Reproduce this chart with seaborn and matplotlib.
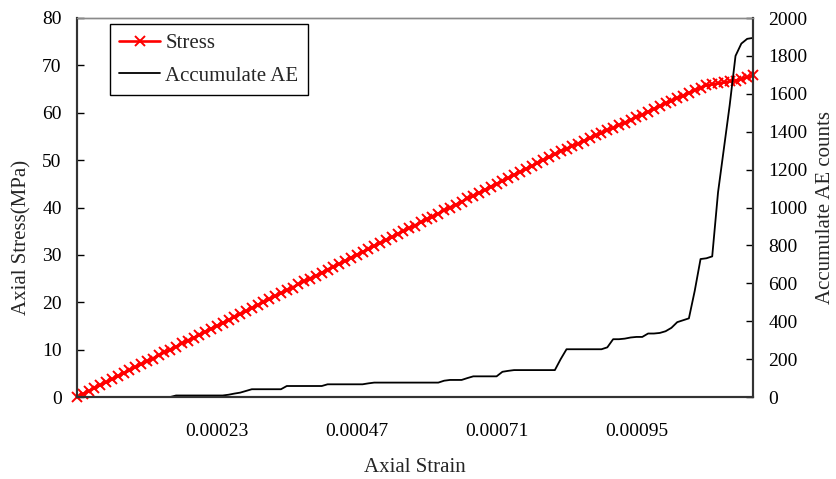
import numpy as np
import pandas as pd
import matplotlib
matplotlib.use("Agg")
import matplotlib.pyplot as plt
import seaborn as sns

# Axial stress (MPa) at each loading step
stress = [
    0.0, 0.6, 1.2, 1.9, 2.5, 3.1, 3.7, 4.4, 5.0, 5.6,
    6.3, 6.9, 7.5, 8.1, 8.8, 9.4, 10.0, 10.6, 11.3, 11.9,
    12.5, 13.1, 13.8, 14.4, 15.0, 15.6, 16.2, 16.9, 17.5, 18.1,
    18.8, 19.4, 20.0, 20.6, 21.3, 21.9, 22.5, 23.1, 23.8, 24.4,
    25.0, 25.6, 26.2, 26.9, 27.5, 28.1, 28.7, 29.4, 30.0, 30.6,
    31.2, 31.9, 32.5, 33.1, 33.7, 34.4, 35.0, 35.6, 36.2, 36.9,
    37.5, 38.1, 38.7, 39.4, 40.0, 40.6, 41.2, 41.9, 42.5, 43.1,
    43.7, 44.4, 45.0, 45.6, 46.2, 46.9, 47.5, 48.1, 48.7, 49.4,
    50.0, 50.6, 51.2, 51.9, 52.4, 53.0, 53.5, 54.1, 54.6, 55.2,
    55.7, 56.3, 56.8, 57.4, 57.9, 58.5, 59.1, 59.6, 60.2, 60.8,
    61.4, 62.0, 62.5, 63.1, 63.6, 64.2, 64.7, 65.3, 65.8, 66.0,
    66.2, 66.4, 66.6, 66.8, 67.1, 67.5, 67.9,
]

# Accumulated acoustic-emission counts at the same steps
ae_counts = [
    0, 0, 0, 0, 0, 0, 0, 0, 0, 0,
    0, 0, 0, 0, 0, 0, 0, 8, 8, 8,
    8, 8, 8, 8, 8, 8, 12, 18, 23, 32,
    41, 41, 41, 41, 41, 41, 58, 58, 58, 58,
    58, 58, 58, 67, 67, 67, 67, 67, 67, 67,
    72, 76, 76, 76, 76, 76, 76, 76, 76, 76,
    76, 76, 76, 86, 90, 90, 90, 100, 109, 109,
    109, 109, 109, 133, 138, 142, 142, 142, 142, 142,
    142, 142, 142, 200, 252, 252, 252, 252, 252, 252,
    252, 262, 305, 305, 308, 314, 317, 317, 335, 335,
    338, 347, 365, 395, 405, 415, 560, 728, 732, 742,
    1080, 1310, 1540, 1800, 1865, 1890, 1895,
]

# Strain labels shown along the category axis, one every 24 steps
strain_labels = ["0.00023", "0.00047", "0.00071", "0.00095"]
label_steps = [24, 48, 72, 96]

df = pd.DataFrame({
    "step": np.arange(len(stress)),
    "stress": stress,
    "ae": ae_counts,
})

sns.set_theme(style="white")
plt.rcParams["font.family"] = ["Liberation Serif", "DejaVu Serif"]

W, H = 837, 479
fig = plt.figure(figsize=(W / 100, H / 100), dpi=100)
left, right, top, bottom = 77, 753, 18, 397
ax = fig.add_axes([left / W, 1 - bottom / H, (right - left) / W, (bottom - top) / H])
ax2 = ax.twinx()

sns.lineplot(data=df, x="step", y="stress", ax=ax, color="red", linewidth=1.9,
             marker="x", markersize=7.5, markeredgewidth=1.4, markeredgecolor="red",
             label="Stress", legend=False, clip_on=False)
sns.lineplot(data=df, x="step", y="ae", ax=ax2, color="black", linewidth=1.3,
             label="Accumulate AE", legend=False)

ax.set_xlim(0, len(stress) - 1)
ax.set_ylim(0, 80)
ax2.set_ylim(0, 2000)
ax.set_yticks(range(0, 81, 10))
ax2.set_yticks(range(0, 2001, 200))
ax.set_xticks(label_steps, strain_labels)

ax.tick_params(axis="x", bottom=True, length=0, pad=19, labelsize=14, colors="black")
ax.tick_params(axis="y", left=True, direction="in", length=5, width=1,
               pad=11, labelsize=14, colors="black")
ax2.tick_params(axis="y", right=True, direction="in", length=5, width=1,
                pad=11, labelsize=14, colors="black")

ax.set_xlabel("Axial Strain", fontsize=15)
ax.set_ylabel("Axial Stress(MPa)", fontsize=15)
ax2.set_ylabel("Accumulate AE counts", fontsize=15)
ax.xaxis.set_label_coords(0.5, -0.16)
ax.yaxis.set_label_coords(-0.067, 0.42)
ax2.yaxis.set_label_coords(1.093, 0.5)

for a in (ax, ax2):
    for name, sp in a.spines.items():
        sp.set_visible(True)
        if name == "top":
            sp.set_color("#8a8a8a")
            sp.set_linewidth(1.0)
        else:
            sp.set_color("#333333")
            sp.set_linewidth(1.5)

h1, l1 = ax.get_legend_handles_labels()
h2, l2 = ax2.get_legend_handles_labels()
leg = ax2.legend(h1 + h2, l1 + l2, loc="upper left",
                 bbox_to_anchor=(0.0488, 0.984), borderaxespad=0,
                 fontsize=15, frameon=True, fancybox=False, shadow=False,
                 handlelength=1.95, handletextpad=0.25, labelspacing=0.62,
                 borderpad=0.45)
leg.get_frame().set_edgecolor("black")
leg.get_frame().set_linewidth(1.0)
leg.get_frame().set_alpha(1)

fig.savefig("out.png", dpi=100)
